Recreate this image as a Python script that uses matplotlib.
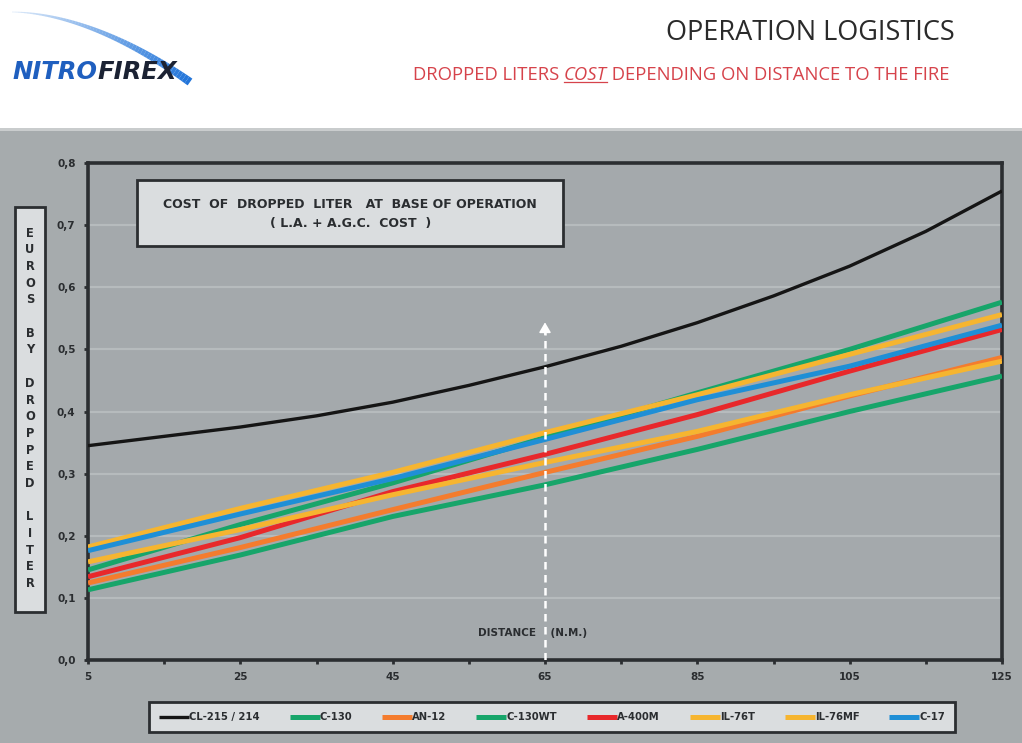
import matplotlib
matplotlib.use("Agg")
import matplotlib.pyplot as plt
from matplotlib.patches import Rectangle
from matplotlib.collections import LineCollection
import numpy as np

# Distance to the fire (nautical miles)
distance = [5, 25, 45, 65, 85, 105, 125]
distance_cl = [5, 15, 25, 35, 45, 55, 65, 75, 85, 95, 105, 115, 125]

# Cost per dropped liter (euros) for each aircraft
cl215 = [0.345, 0.360, 0.375, 0.393, 0.415, 0.442, 0.472, 0.505, 0.543, 0.586, 0.634, 0.690, 0.755]
c130 = [0.113, 0.169, 0.231, 0.282, 0.339, 0.400, 0.457]
an12 = [0.124, 0.181, 0.242, 0.302, 0.360, 0.425, 0.487]
c130wt = [0.145, 0.218, 0.285, 0.358, 0.430, 0.500, 0.576]
a400m = [0.134, 0.197, 0.271, 0.331, 0.395, 0.465, 0.532]
il76t = [0.158, 0.210, 0.266, 0.318, 0.368, 0.427, 0.481]
il76mf = [0.182, 0.244, 0.302, 0.366, 0.427, 0.492, 0.556]
c17 = [0.176, 0.235, 0.292, 0.355, 0.419, 0.473, 0.539]

series_names = ["CL-215 / 214", "C-130", "AN-12", "C-130WT", "A-400M", "IL-76T", "IL-76MF", "C-17"]
series_values = [cl215, c130, an12, c130wt, a400m, il76t, il76mf, c17]
series_x = [distance_cl] + [distance] * 7
series_colors = ["#151515", "#17a56a", "#f47c2e", "#17a56a", "#e8282b", "#f6b530", "#f6b530", "#1f8fd6"]
series_widths = [2.4, 3.6, 3.6, 3.6, 3.6, 3.6, 3.6, 3.6]

y_ticks = [0.0, 0.1, 0.2, 0.3, 0.4, 0.5, 0.6, 0.7, 0.8]
x_major = [5, 25, 45, 65, 85, 105, 125]
x_minor = [15, 35, 55, 75, 95, 115]
marked_distance = 65

W, H = 1022, 743
fig = plt.figure(figsize=(W / 100, H / 100), dpi=100)
fig.patch.set_facecolor("white")

panel_gray = "#a6abad"
box_fill = "#dadddf"
frame_dark = "#2b2e31"
text_dark = "#2a2d30"

# gray panel behind the chart
fig.patches.append(Rectangle((0, 0), 1, (H - 128) / H, transform=fig.transFigure,
                             facecolor=panel_gray, edgecolor="none", zorder=-2))
fig.patches.append(Rectangle((0, (H - 131) / H), 1, 3 / H, transform=fig.transFigure,
                             facecolor="#c9cccd", edgecolor="none", zorder=-2))

# ---- header ----
fig.text(955 / W, 1 - 33 / H, "OPERATION LOGISTICS", ha="right", va="center",
         fontsize=19.5, color="#2a2a2a", family="Open Sans")
sub_y = 1 - 75 / H
sub_size = 13.3
t1 = fig.text(413 / W, sub_y, "DROPPED LITERS ", ha="left", va="center",
              fontsize=sub_size, color="#d6434b", family="Open Sans")
fig.canvas.draw()
r = fig.canvas.get_renderer()
bb = t1.get_window_extent(r)
t2 = fig.text(bb.x1 / W, sub_y, "COST", ha="left", va="center", fontsize=sub_size,
              color="#d6434b", family="Open Sans", style="italic")
bb2 = t2.get_window_extent(r)
fig.lines.append(plt.Line2D([bb2.x0 / W, bb2.x1 / W], [(bb2.y0 + 2) / H] * 2,
                            transform=fig.transFigure, color="#d6434b", lw=0.9))
fig.text(bb2.x1 / W, sub_y, " DEPENDING ON DISTANCE TO THE FIRE", ha="left", va="center",
         fontsize=sub_size, color="#d6434b", family="Open Sans")

# logo swoosh
tt = np.linspace(0, 1, 60)
sx = 12 + 178 * tt
sy = 12 + 70 * tt ** 1.8
pts = np.column_stack([sx / W, 1 - sy / H])
segs = np.stack([pts[:-1], pts[1:]], axis=1)
widths = 0.5 + 5.5 * tt[:-1]
cols = [(0.12, 0.45, 0.85, 0.15 + 0.85 * v) for v in tt[:-1]]
fig.add_artist(LineCollection(segs, linewidths=widths, colors=cols, transform=fig.transFigure))
logo_y = 1 - 72 / H
n1 = fig.text(12 / W, logo_y, "NITRO", ha="left", va="center", fontsize=17.5,
              fontweight="bold", style="italic", color="#1f5fbf", family="DejaVu Sans")
fig.canvas.draw()
nb = n1.get_window_extent(fig.canvas.get_renderer())
fig.text(nb.x1 / W, logo_y, "FIREX", ha="left", va="center", fontsize=17.5,
         fontweight="bold", style="italic", color="#1b2233", family="DejaVu Sans")

# ---- main axes ----
ax = fig.add_axes([88 / W, 83 / H, 914 / W, 497 / H])
ax.set_facecolor("#a4a9ac")
ax.set_xlim(5, 125)
ax.set_ylim(0, 0.8)

for yv in y_ticks[1:-1]:
    ax.axhline(yv, color="#b6bbbd", lw=1.6, zorder=1)

for name, xs, vals, col, lw in zip(series_names, series_x, series_values, series_colors, series_widths):
    ax.plot(xs, vals, color=col, lw=lw, label=name, solid_capstyle="butt", zorder=3)

# white dashed marker at the reference distance
ax.plot([marked_distance, marked_distance], [0, 0.53], color="white", lw=1.8,
        dashes=(3, 2.2), zorder=4)
ax.annotate("", xy=(marked_distance, 0.548), xytext=(marked_distance, 0.52),
            arrowprops=dict(arrowstyle="-|>,head_width=0.35,head_length=0.6",
                            color="white", lw=1.2), zorder=5)

ax.text(63.4, 0.043, "DISTANCE    (N.M.)", ha="center", va="center", fontsize=7.5,
        fontweight="bold", color=text_dark, zorder=3)

# title box inside the plot
ax.add_patch(Rectangle((0.0536, 0.833), 0.466, 0.133, transform=ax.transAxes,
                       facecolor=box_fill, edgecolor=frame_dark, lw=2, zorder=6))
ax.text(0.2868, 0.917, "COST  OF  DROPPED  LITER   AT  BASE OF OPERATION", transform=ax.transAxes,
        ha="center", va="center", fontsize=9.0, fontweight="bold", color=text_dark, zorder=7)
ax.text(0.2868, 0.878, "( L.A. + A.G.C.  COST  )", transform=ax.transAxes,
        ha="center", va="center", fontsize=9.0, fontweight="bold", color=text_dark, zorder=7)

for sp in ax.spines.values():
    sp.set_color(frame_dark)
    sp.set_linewidth(2.6)

ax.set_yticks(y_ticks)
ax.set_yticklabels([f"{v:.1f}".replace(".", ",") for v in y_ticks])
ax.set_xticks(x_major)
ax.set_xticks(x_minor, minor=True)
ax.set_xticklabels([str(v) for v in x_major])
ax.tick_params(axis="both", which="both", length=3, width=2, color=frame_dark,
               labelsize=7.5, labelcolor=text_dark, pad=6)
for lab in ax.get_xticklabels() + ax.get_yticklabels():
    lab.set_fontweight("bold")

# vertical y-axis label box with stacked letters
fig.patches.append(Rectangle((15 / W, 1 - 612 / H), 30 / W, 405 / H, transform=fig.transFigure,
                             facecolor=box_fill, edgecolor=frame_dark, lw=2, zorder=2))
words = ["EUROS", "BY", "DROPPED", "LITER"]
letters = []
for i, w in enumerate(words):
    if i:
        letters.append("")
    letters.extend(list(w))
for k, ch in enumerate(letters):
    if ch:
        fig.text(30 / W, 1 - (233 + 16.7 * k) / H, ch, ha="center", va="center",
                 fontsize=8.3, fontweight="bold", color=text_dark, zorder=3)

# legend strip
leg = fig.legend(loc="center", bbox_to_anchor=(552 / W, 1 - 717 / H), ncol=8,
                 fontsize=7.2, frameon=True, fancybox=False, handlelength=3.0,
                 handletextpad=0.0, columnspacing=3.0, borderpad=1.0)
leg.get_frame().set_facecolor(box_fill)
leg.get_frame().set_edgecolor(frame_dark)
leg.get_frame().set_linewidth(2)
leg.get_frame().set_alpha(1)
for txt in leg.get_texts():
    txt.set_fontweight("bold")
    txt.set_color(text_dark)

fig.savefig("out.png", dpi=100, facecolor=fig.get_facecolor())
